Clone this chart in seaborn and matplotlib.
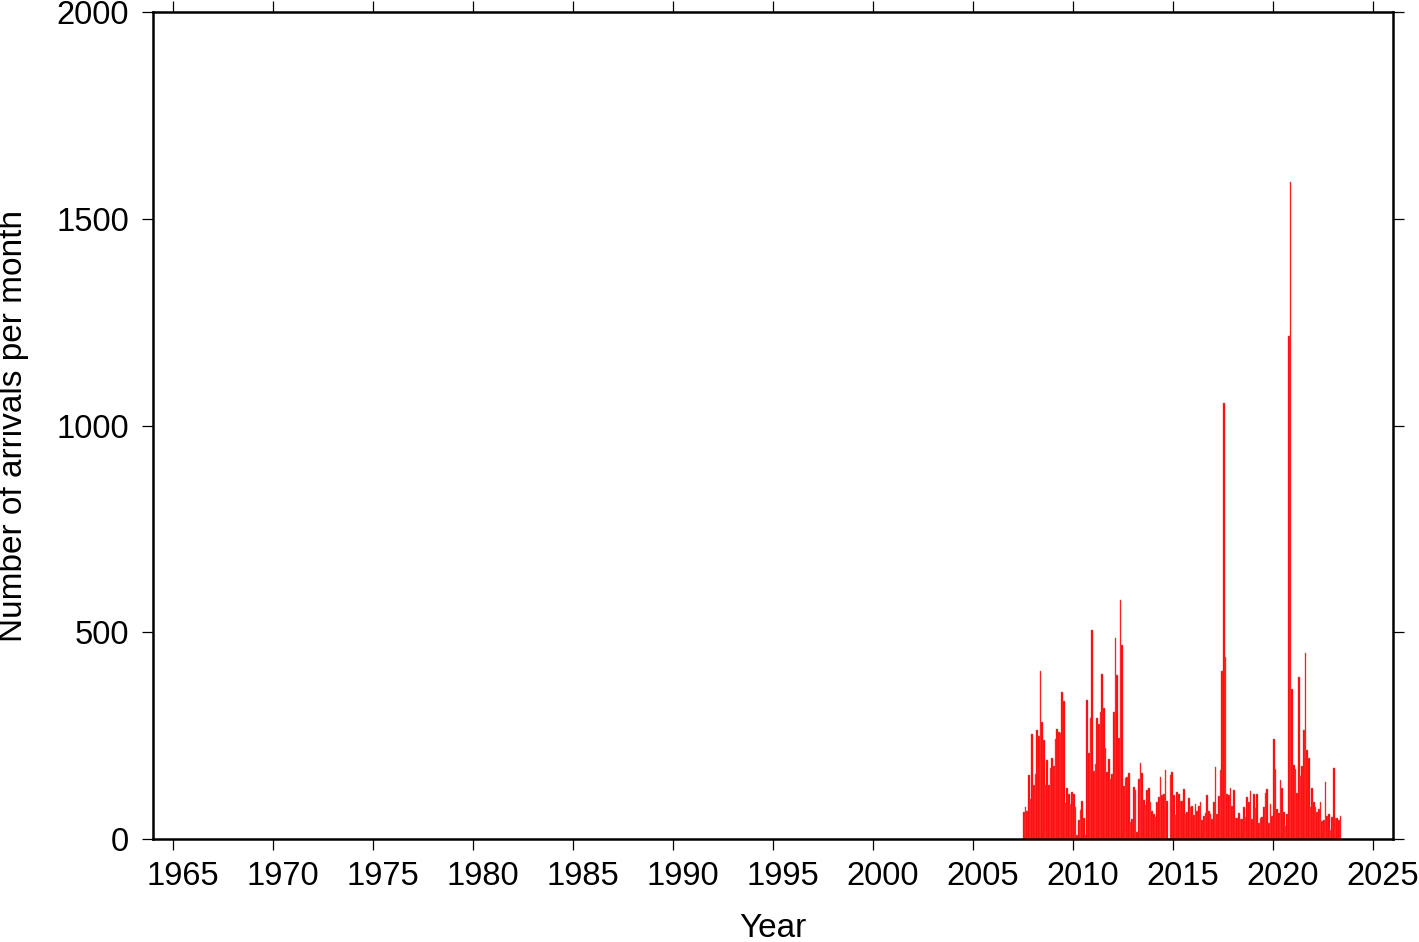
import numpy as np
import pandas as pd
import matplotlib
matplotlib.use("Agg")
import matplotlib.pyplot as plt
import matplotlib.transforms as mtransforms
import seaborn as sns

# monthly arrival counts, starting July 2007
first_month = "2007-07"
counts = [
    66, 77, 69, 155, 96, 254, 130, 157, 263, 249, 406, 284, 239, 131, 190, 131,
    172, 196, 177, 242, 267, 258, 256, 355, 335, 86, 123, 109, 85, 114, 110, 77,
    9, 47, 70, 93, 50, 9, 336, 209, 293, 505, 165, 181, 292, 278, 307, 399,
    317, 220, 163, 193, 144, 157, 306, 485, 396, 244, 578, 469, 129, 147,
    151, 160, 41, 48, 127, 118, 18, 145, 184, 159, 94, 83, 119, 123, 90, 67,
    60, 54, 89, 102, 149, 106, 108, 167, 92, 0, 155, 162, 106, 58, 113, 110,
    91, 92, 120, 60, 65, 99, 77, 81, 58, 84, 67, 79, 89, 46, 56, 62,
    106, 69, 60, 49, 89, 174, 60, 103, 167, 406, 1055, 440, 110, 107, 124, 79,
    118, 50, 50, 62, 49, 49, 77, 54, 101, 89, 115, 49, 109, 74, 109, 39,
    50, 54, 77, 111, 121, 38, 85, 56, 243, 170, 72, 64, 142, 123, 66, 32,
    60, 1216, 1588, 364, 180, 170, 111, 391, 152, 177, 263, 451, 215, 197, 77, 123,
    89, 78, 65, 73, 89, 43, 45, 139, 56, 60, 23, 54, 172, 52, 52, 46, 56,
]

year_ticks = list(range(1965, 2030, 5))
count_ticks = [0, 500, 1000, 1500, 2000]

months = pd.period_range(first_month, periods=len(counts), freq="M")
start = months[0].year + (months[0].month - 1) / 12
df = pd.DataFrame({
    "year": np.asarray(months.year + (months.month - 1) / 12 + 1 / 24, dtype=float),
    "arrivals": counts,
})

sns.set_theme(style="ticks")
plt.rcParams["font.family"] = ["Liberation Sans", "DejaVu Sans"]
plt.rcParams["text.color"] = "black"
plt.rcParams["axes.labelcolor"] = "black"
plt.rcParams["xtick.color"] = "black"
plt.rcParams["ytick.color"] = "black"

fig = plt.figure(figsize=(14.19, 9.42), dpi=100)
ax = fig.add_axes([0.1078, 0.1093, 0.8738, 0.878])

sns.histplot(data=df, x="year", weights="arrivals", binwidth=1 / 12,
             binrange=(start, start + len(counts) / 12), ax=ax,
             color="#ff0000", alpha=1, edgecolor="#ff5050", linewidth=0.3)

ax.set_xlim(1964, 2026)
ax.set_ylim(0, 2000)
ax.set_xticks(year_ticks)
ax.set_yticks(count_ticks)

for s in ax.spines.values():
    s.set_linewidth(1.8)
    s.set_color("black")

ax.tick_params(axis="both", which="major", direction="out", length=8,
               width=0.9, labelsize=23.5, colors="black",
               top=True, right=True, labeltop=False, labelright=False)
ax.tick_params(axis="x", pad=8)
ax.tick_params(axis="y", pad=9)

# year labels sit a little right of their ticks in the original
shift = mtransforms.ScaledTranslation(0.10, 0, fig.dpi_scale_trans)
for lab in ax.get_xticklabels():
    lab.set_transform(lab.get_transform() + shift)

ax.set_xlabel("Year", fontsize=24, color="black")
ax.set_ylabel("Number of arrivals per month", fontsize=24, color="black")
ax.xaxis.set_label_coords(0.5, -0.089)
ax.yaxis.set_label_coords(-0.100, 0.5)

fig.savefig("out.png", dpi=100)
